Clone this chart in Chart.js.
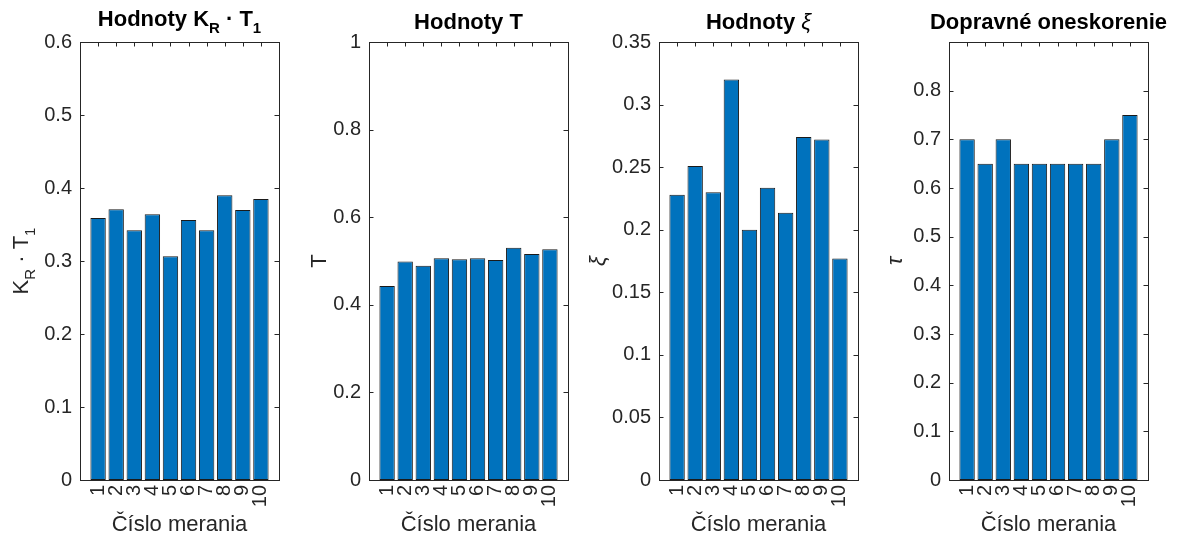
<!DOCTYPE html>
<html>
<head>
<meta charset="utf-8">
<script src="https://cdn.jsdelivr.net/npm/chart.js@4.4.1/dist/chart.umd.min.js"></script>
<style>
  html, body { margin: 0; padding: 0; background: #fff; }
  #wrap { position: relative; width: 1181px; height: 538px; overflow: hidden; }
  #wrap canvas { position: absolute; top: 0; }
</style>
</head>
<body>
<div id="wrap">
  <canvas id="c1" width="304" height="538" style="left:0px"></canvas>
  <canvas id="c2" width="304" height="538" style="left:289px"></canvas>
  <canvas id="c3" width="304" height="538" style="left:579px"></canvas>
  <canvas id="c4" width="304" height="538" style="left:869px"></canvas>
</div>
<script>
// --- Data ---
const categories = [1, 2, 3, 4, 5, 6, 7, 8, 9, 10];

const kRT1Values = [0.359, 0.371, 0.342, 0.364, 0.3065, 0.356, 0.342, 0.390, 0.370, 0.385];
const tValues    = [0.443, 0.499, 0.489, 0.506, 0.504, 0.506, 0.502, 0.530, 0.516, 0.527];
const xiValues   = [0.228, 0.251, 0.230, 0.320, 0.200, 0.2335, 0.2135, 0.274, 0.272, 0.177];
const tauValues  = [0.70, 0.65, 0.70, 0.65, 0.65, 0.65, 0.65, 0.65, 0.70, 0.75];

const kRT1Ticks = [0, 0.1, 0.2, 0.3, 0.4, 0.5, 0.6];
const tTicks    = [0, 0.2, 0.4, 0.6, 0.8, 1];
const xiTicks   = [0, 0.05, 0.1, 0.15, 0.2, 0.25, 0.3, 0.35];
const tauTicks  = [0, 0.1, 0.2, 0.3, 0.4, 0.5, 0.6, 0.7, 0.8];

const xLabel = 'Číslo merania';

// --- Style ---
const FONT = "'Liberation Sans', Arial, Helvetica, sans-serif";
const AXIS_COLOR = '#262626';
const BAR_COLOR = '#0072BD';
const TICK_LEN = 4.5;

Chart.defaults.font.family = FONT;

function partFont(p, size) {
  const s = p.sub ? Math.round(size * 0.7) : size;
  return (p.italic ? 'italic ' : '') + (p.bold ? 'bold ' : '') + s + 'px ' + FONT;
}

// draws text made of pieces (subscripts etc), centred on x
function drawRich(ctx, parts, x, y, size) {
  let w = 0;
  parts.forEach(p => { ctx.font = partFont(p, size); w += ctx.measureText(p.text).width; });
  let cx = x - w / 2;
  ctx.textAlign = 'left';
  ctx.textBaseline = 'alphabetic';
  parts.forEach(p => {
    ctx.font = partFont(p, size);
    ctx.fillText(p.text, cx, y + (p.sub ? size * 0.3 : 0));
    cx += ctx.measureText(p.text).width;
  });
}

function fmt(v) {
  return parseFloat(v.toFixed(2)).toString();
}

function makePanel(id, values, yTicks, yMax, titleParts, titleY, ylabelParts, ylabelDx) {
  const boxPlugin = {
    id: 'matlabBox',
    beforeDatasetsDraw(chart) {
      const { ctx, chartArea: a, scales: { x, y } } = chart;
      ctx.save();
      ctx.strokeStyle = AXIS_COLOR;
      ctx.lineWidth = 1;
      ctx.beginPath();
      yTicks.forEach(v => {
        const py = Math.round(y.getPixelForValue(v)) + 0.5;
        ctx.moveTo(a.left, py); ctx.lineTo(a.left + TICK_LEN, py);
        ctx.moveTo(a.right, py); ctx.lineTo(a.right - TICK_LEN, py);
      });
      categories.forEach(c => {
        const px = Math.round(x.getPixelForValue(c)) + 0.5;
        ctx.moveTo(px, a.bottom); ctx.lineTo(px, a.bottom - TICK_LEN);
        ctx.moveTo(px, a.top); ctx.lineTo(px, a.top + TICK_LEN);
      });
      ctx.stroke();
      ctx.strokeRect(Math.round(a.left) + 0.5, Math.round(a.top) + 0.5,
                     Math.round(a.right - a.left), Math.round(a.bottom - a.top));
      ctx.restore();
    },
    afterDraw(chart) {
      const { ctx, chartArea: a } = chart;
      const midX = (a.left + a.right) / 2;
      ctx.save();
      // title
      ctx.fillStyle = '#000';
      drawRich(ctx, titleParts, midX, titleY, 22);
      // x label
      ctx.fillStyle = AXIS_COLOR;
      drawRich(ctx, [{ text: xLabel }], midX, 531, 22);
      // y label, rotated
      ctx.translate(a.left + ylabelDx, (a.top + a.bottom) / 2);
      ctx.rotate(-Math.PI / 2);
      drawRich(ctx, ylabelParts, 0, 0, 22);
      ctx.restore();
    }
  };

  return new Chart(document.getElementById(id), {
    type: 'bar',
    data: {
      datasets: [{
        data: categories.map((c, i) => ({ x: c, y: values[i] })),
        backgroundColor: BAR_COLOR,
        borderColor: '#1a1a1a',
        borderWidth: 1,
        borderSkipped: false,
        inflateAmount: 0,
        barPercentage: 0.85,
        categoryPercentage: 1
      }]
    },
    options: {
      responsive: false,
      animation: false,
      layout: { padding: { top: 42, left: 0, right: 25, bottom: 0 } },
      plugins: {
        legend: { display: false },
        tooltip: { enabled: false },
        title: { display: false }
      },
      scales: {
        x: {
          type: 'linear',
          min: 0,
          max: 11,
          offset: false,
          grid: { display: false, drawTicks: false },
          border: { display: false },
          afterBuildTicks: s => { s.ticks = categories.map(v => ({ value: v })); },
          afterFit: s => { s.height = 58; },
          ticks: {
            minRotation: 90, maxRotation: 90, autoSkip: false, padding: 5,
            color: AXIS_COLOR, font: { size: 20 },
            callback: v => String(v)
          }
        },
        y: {
          min: 0,
          max: yMax,
          grid: { display: false, drawTicks: false },
          border: { display: false },
          afterBuildTicks: s => { s.ticks = yTicks.map(v => ({ value: v })); },
          afterFit: s => { s.width = 80; },
          ticks: {
            padding: 8, color: AXIS_COLOR, font: { size: 20 },
            callback: v => fmt(v)
          }
        }
      }
    },
    plugins: [boxPlugin]
  });
}

makePanel('c1', kRT1Values, kRT1Ticks, 0.6,
  [{ text: 'Hodnoty K', bold: true }, { text: 'R', bold: true, sub: true },
   { text: ' · T', bold: true }, { text: '1', bold: true, sub: true }], 26,
  [{ text: 'K' }, { text: 'R', sub: true }, { text: ' · T' }, { text: '1', sub: true }], -52);

makePanel('c2', tValues, tTicks, 1,
  [{ text: 'Hodnoty T', bold: true }], 29,
  [{ text: 'T' }], -43);

makePanel('c3', xiValues, xiTicks, 0.35,
  [{ text: 'Hodnoty ', bold: true }, { text: 'ξ', italic: true }], 29,
  [{ text: 'ξ', italic: true }], -54);

makePanel('c4', tauValues, tauTicks, 0.9,
  [{ text: 'Dopravné oneskorenie', bold: true }], 29,
  [{ text: 'τ', italic: true }], -47);
</script>
</body>
</html>
